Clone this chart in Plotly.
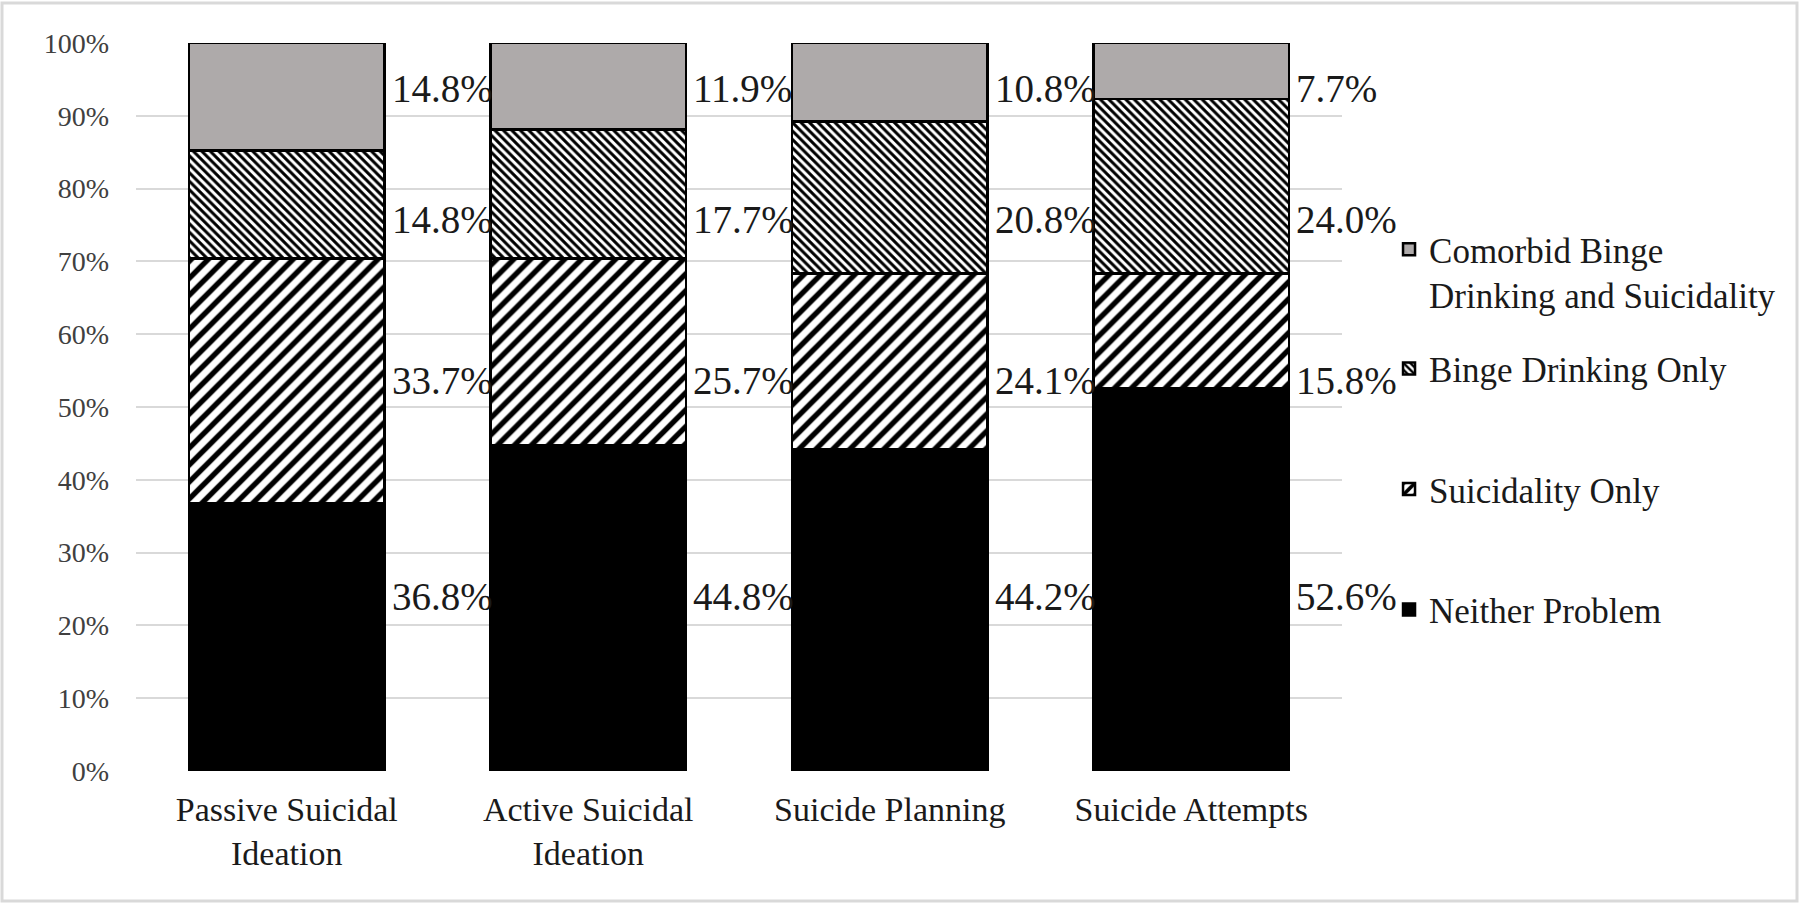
import plotly.graph_objects as go

# ---- data ----
categories = ["Passive Suicidal<br>Ideation", "Active Suicidal<br>Ideation",
              "Suicide Planning", "Suicide Attempts"]
neither = [36.8, 44.8, 44.2, 52.6]
suicidality_only = [33.7, 25.7, 24.1, 15.8]
binge_only = [14.8, 17.7, 20.8, 24.0]
comorbid = [14.8, 11.9, 10.8, 7.7]
series_names = ["Neither Problem", "Suicidality Only", "Binge Drinking Only",
                "Comorbid Binge<br>Drinking and Suicidality"]
tick_vals = [0, 10, 20, 30, 40, 50, 60, 70, 80, 90, 100]
tick_text = [f"{t}%" for t in tick_vals]

# ---- layout constants ----
W, H = 1800, 904
ML, MR, MT, MB = 136, 458, 43, 133
PW = W - ML - MR
PH = H - MT - MB
BARGAP = 0.35
BAR_PX = PW / len(categories) * (1 - BARGAP)
LABEL_ROWS = [24.0, 53.6, 75.8, 93.7]   # label row heights (axis %) for each series
FONT = "Liberation Serif, Times New Roman, serif"

patterns = [
    dict(shape=""),
    dict(shape="/", size=12, solidity=0.45, fgcolor="black", bgcolor="white",
         fgopacity=1, fillmode="replace"),
    dict(shape="\\", size=6, solidity=0.5, fgcolor="black", bgcolor="white",
         fgopacity=1, fillmode="replace"),
    dict(shape=""),
]
colors = ["#000000", "#ffffff", "#ffffff", "#AEAAAA"]
values = [neither, suicidality_only, binge_only, comorbid]
legend_ids = ["legend", "legend", "legend", "legend2"]

fig = go.Figure()
for i, (name, vals) in enumerate(zip(series_names, values)):
    fig.add_trace(go.Bar(
        x=categories, y=vals, name=name, legend=legend_ids[i],
        legendgroup=f"g{i}", legendrank=len(values) - i,
        marker=dict(color=colors[i], pattern=patterns[i],
                    line=dict(color="black", width=2.5)),
        cliponaxis=False, hoverinfo="skip",
    ))

annotations = []
for i, vals in enumerate(values):
    for j, v in enumerate(vals):
        annotations.append(dict(
            x=categories[j], y=LABEL_ROWS[i], xref="x", yref="y",
            text=f"{v:.1f}%", showarrow=False, xanchor="left", yanchor="middle",
            xshift=BAR_PX / 2 + 5,
            font=dict(family=FONT, size=39, color="#1a1a1a"),
        ))

legend_font = dict(family=FONT, size=35, color="#1a1a1a")
fig.update_layout(
    width=W, height=H,
    margin=dict(l=ML, r=MR, t=MT, b=MB),
    barmode="stack", barnorm="percent", bargap=BARGAP,
    plot_bgcolor="white", paper_bgcolor="white",
    font=dict(family=FONT, color="black"),
    annotations=annotations,
    legend=dict(
        x=1.039, y=0.593, xanchor="left", yanchor="top",
        traceorder="grouped", tracegroupgap=72, valign="top",
        font=legend_font, bgcolor="rgba(0,0,0,0)",
        itemwidth=30,
    ),
    legend2=dict(
        x=1.039, y=0.757, xanchor="left", yanchor="top",
        valign="top", font=legend_font, bgcolor="rgba(0,0,0,0)",
        itemwidth=30,
    ),
    shapes=[dict(
        type="rect", xref="paper", yref="paper",
        x0=(2 - ML) / PW, x1=(W - 3 - ML) / PW,
        y0=-(MB - 3) / PH, y1=1 + (MT - 3) / PH,
        line=dict(color="#D9D9D9", width=3), fillcolor="rgba(0,0,0,0)",
        layer="below",
    )],
)
fig.update_yaxes(
    range=[0, 100], tickvals=tick_vals, ticktext=tick_text,
    showgrid=True, gridcolor="#D9D9D9", gridwidth=1.5,
    zeroline=False, showline=False, ticks="",
    ticklabelstandoff=26,
    tickfont=dict(family=FONT, size=28, color="#404040"),
)
fig.update_xaxes(
    range=[-0.5, len(categories) - 0.5],
    showgrid=False, showline=False, ticks="", zeroline=False,
    ticklabelstandoff=15,
    tickfont=dict(family=FONT, size=34, color="#1a1a1a"),
)

fig.write_html("out.html", config={"displayModeBar": False},
               post_script="document.body.style.margin='0';")
